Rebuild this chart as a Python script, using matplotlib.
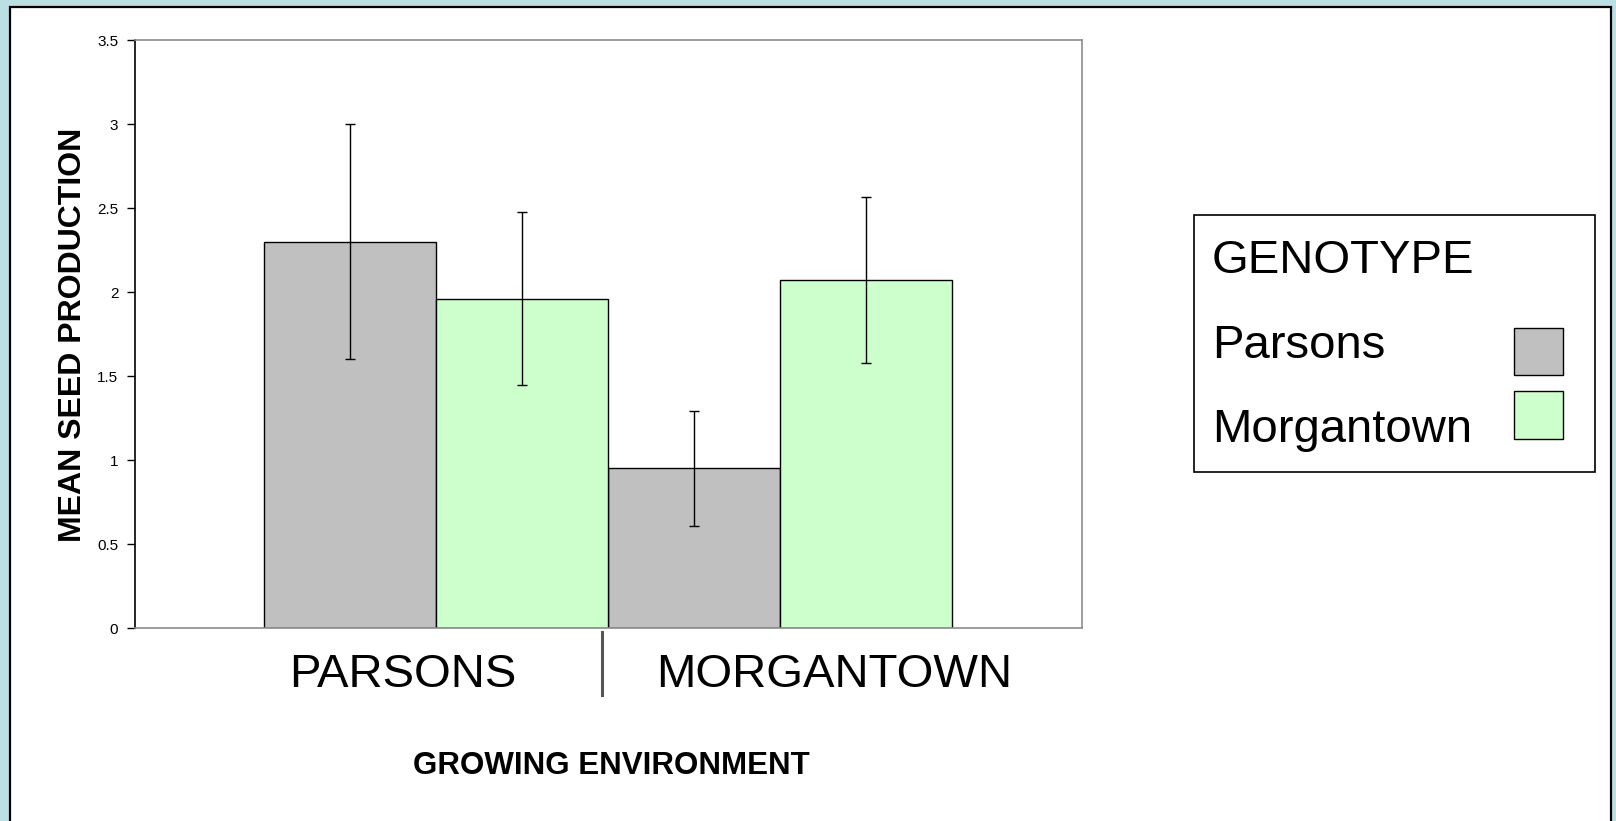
import matplotlib
matplotlib.use("Agg")
import matplotlib.pyplot as plt
from matplotlib.patches import Rectangle
from matplotlib.lines import Line2D
import numpy as np

plt.rcParams['font.family'] = ['Liberation Sans', 'DejaVu Sans']

# ---- data ----
environments = ["PARSONS", "MORGANTOWN"]
genotypes = ["Parsons", "Morgantown"]
parsons_means = [2.30, 0.95]
parsons_err = [0.70, 0.34]
morgantown_means = [1.96, 2.07]
morgantown_err = [0.515, 0.495]
y_ticks = [0, 0.5, 1, 1.5, 2, 2.5, 3, 3.5]
y_tick_labels = ["0", "0.5", "1", "1.5", "2", "2.5", "3", "3.5"]

colors = {"Parsons": "#C0C0C0", "Morgantown": "#CCFFCC"}

W, H = 1616, 821
fig = plt.figure(figsize=(W / 100, H / 100), dpi=100)
fig.patch.set_facecolor("#BAE0E4")

def fx(px):
    return px / W

def fy(py):
    return 1 - py / H

# white inner panel with black frame
panel = Rectangle((fx(10), fy(830)), fx(1611) - fx(10), fy(7) - fy(830),
                  transform=fig.transFigure, facecolor="white",
                  edgecolor="black", linewidth=1.6, zorder=-5)
fig.patches.append(panel)

ax = fig.add_axes([fx(135), fy(628), fx(1082) - fx(135), fy(40) - fy(628)])
ax.set_facecolor("white")

x = np.arange(len(environments))
bw = 0.5
ax.bar(x - bw / 2, parsons_means, width=bw, color=colors["Parsons"],
       edgecolor="black", linewidth=1.0, zorder=2)
ax.bar(x + bw / 2, morgantown_means, width=bw, color=colors["Morgantown"],
       edgecolor="black", linewidth=1.0, zorder=2)
ax.errorbar(x - bw / 2, parsons_means, yerr=parsons_err, fmt="none",
            ecolor="black", elinewidth=1.0, capsize=3.8, capthick=1.0, zorder=3)
ax.errorbar(x + bw / 2, morgantown_means, yerr=morgantown_err, fmt="none",
            ecolor="black", elinewidth=1.0, capsize=3.8, capthick=1.0, zorder=3)

ax.set_xlim(-0.875, 1.877)
ax.set_ylim(0, 3.5)
ax.set_yticks(y_ticks)
ax.set_yticklabels(y_tick_labels, fontsize=11)
ax.set_xticks([])
ax.tick_params(axis="y", direction="out", length=6, width=1.0, pad=6, colors="black")
ax.spines["left"].set_color("black")
ax.spines["left"].set_linewidth(1.2)
for s in ["top", "right", "bottom"]:
    ax.spines[s].set_color("#8C8C8C")
    ax.spines[s].set_linewidth(1.2)

# category labels
fig.text(fx(403), fy(687), environments[0], fontsize=34, ha="center", va="baseline")
fig.text(fx(834), fy(687), environments[1], fontsize=34, ha="center", va="baseline")
fig.add_artist(Line2D([fx(602), fx(602)], [fy(632), fy(695)],
                      transform=fig.transFigure, color="#555555", linewidth=2.2))

# axis titles
fig.text(fx(611), fy(774), "GROWING ENVIRONMENT", fontsize=22.5, fontweight="bold",
         ha="center", va="baseline")
fig.text(fx(73), fy(335), "MEAN SEED PRODUCTION", fontsize=23, fontweight="bold",
         rotation=90, ha="center", va="center")

# legend
leg_box = Rectangle((fx(1194), fy(472)), fx(1595) - fx(1194), fy(215) - fy(472),
                    transform=fig.transFigure, facecolor="white",
                    edgecolor="black", linewidth=1.2, zorder=1)
fig.patches.append(leg_box)
fig.text(fx(1212), fy(273), "GENOTYPE", fontsize=34, ha="left", va="baseline")
fig.text(fx(1212), fy(358), genotypes[0], fontsize=34, ha="left", va="baseline")
fig.text(fx(1212), fy(442), genotypes[1], fontsize=34, ha="left", va="baseline")
fig.patches.append(Rectangle((fx(1514), fy(375)), fx(1563) - fx(1514), fy(328) - fy(375),
                             transform=fig.transFigure, facecolor=colors["Parsons"],
                             edgecolor="black", linewidth=1.0, zorder=2))
fig.patches.append(Rectangle((fx(1514), fy(439)), fx(1563) - fx(1514), fy(391) - fy(439),
                             transform=fig.transFigure, facecolor=colors["Morgantown"],
                             edgecolor="black", linewidth=1.0, zorder=2))

fig.savefig("out.png", dpi=100)
